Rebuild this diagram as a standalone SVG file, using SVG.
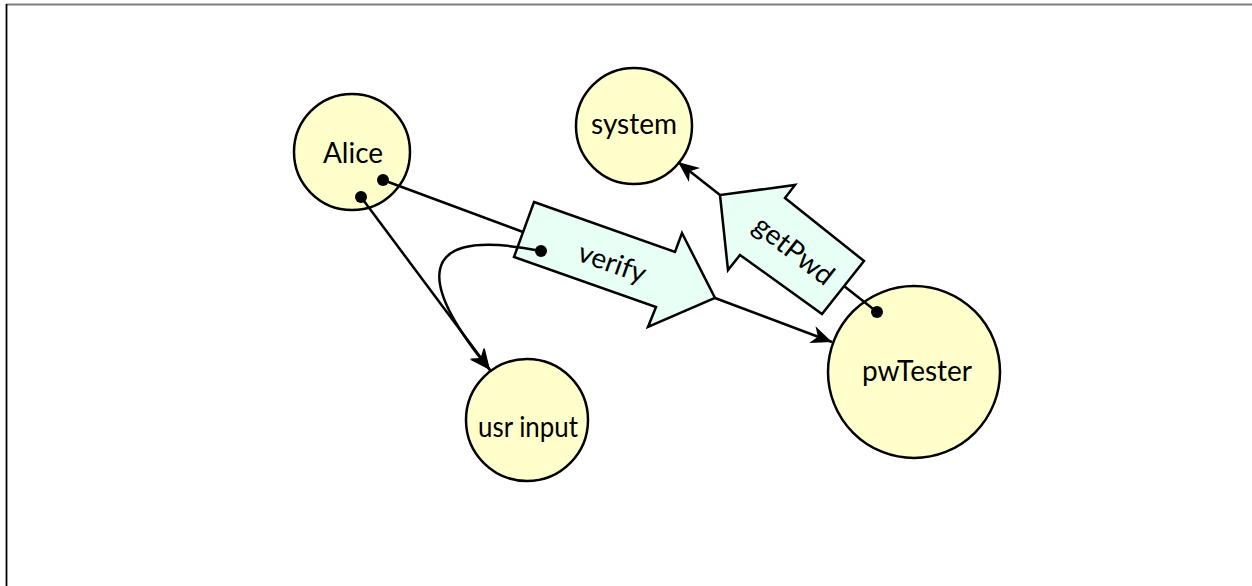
<svg xmlns="http://www.w3.org/2000/svg" width="1252" height="586" viewBox="0 0 1252 586">
  <style>
    .node { fill: #ffffcc; stroke: #000; stroke-width: 2.5; }
    .label { font-family: Lato, "Noto Sans", sans-serif; font-size: 28px; fill: #000; text-anchor: middle; }
    .msg { fill: #e8fff6; stroke: #000; stroke-width: 2.5; stroke-linejoin: miter; }
    .conn { fill: none; stroke: #000; stroke-width: 2.5; }
    .dot { fill: #000; }
  </style>
  <defs>
    <marker id="arrow" markerUnits="userSpaceOnUse" markerWidth="26" markerHeight="22" viewBox="-22 -11 24 22" refX="0" refY="0" orient="auto">
      <path d="M0,0 L-21,-9 L-15,0 L-21,9 Z" fill="#000"/>
    </marker>
  </defs>
  <rect x="0" y="0" width="1252" height="586" fill="#fff"/>
  <line x1="6" y1="4.5" x2="1252" y2="4.5" stroke="#808080" stroke-width="1.8"/>
  <line x1="6.5" y1="4" x2="6.5" y2="586" stroke="#000" stroke-width="1.8"/>

  <g id="Alice">
    <circle class="node" cx="352" cy="152" r="58"/>
    <text class="label" x="353" y="163">Alice</text>
  </g>
  <g id="system">
    <circle class="node" cx="634" cy="126" r="58"/>
    <text class="label" x="634" y="134">system</text>
  </g>
  <g id="usr_input">
    <circle class="node" cx="527" cy="420" r="61"/>
    <text class="label" x="528" y="437" textLength="100" lengthAdjust="spacingAndGlyphs">usr input</text>
  </g>
  <g id="pwTester">
    <circle class="node" cx="914" cy="372" r="86"/>
    <text class="label" x="917" y="381">pwTester</text>
  </g>

  <g id="verify">
    <polygon class="msg" points="534,202 675,252 682,233 715,298 648,327 656,307 514,257"/>
    <text class="label" transform="translate(609,272) rotate(19.5)" x="0" y="0">verify</text>
  </g>
  <g id="getPwd">
    <polygon class="msg" points="864,261 785,198 795,185 720,195 728,270 740,255 822,314"/>
    <text class="label" transform="translate(788,258) rotate(38)" x="0" y="0">getPwd</text>
  </g>

  <g id="connectors">
    <line class="conn" x1="383" y1="180" x2="523" y2="232"/>
    <line class="conn" x1="361" y1="197" x2="490" y2="370" marker-end="url(#arrow)"/>
    <path class="conn" d="M541,251 C410,225 420,285 490,370" marker-end="url(#arrow)"/>
    <line class="conn" x1="715" y1="298" x2="832" y2="342" marker-end="url(#arrow)"/>
    <line class="conn" x1="877" y1="312" x2="844" y2="286"/>
    <line class="conn" x1="720" y1="195" x2="678" y2="162" marker-end="url(#arrow)"/>
    <circle class="dot" cx="383" cy="180" r="6"/>
    <circle class="dot" cx="361" cy="197" r="6"/>
    <circle class="dot" cx="541" cy="251" r="6"/>
    <circle class="dot" cx="877" cy="312" r="6"/>
  </g>
</svg>
